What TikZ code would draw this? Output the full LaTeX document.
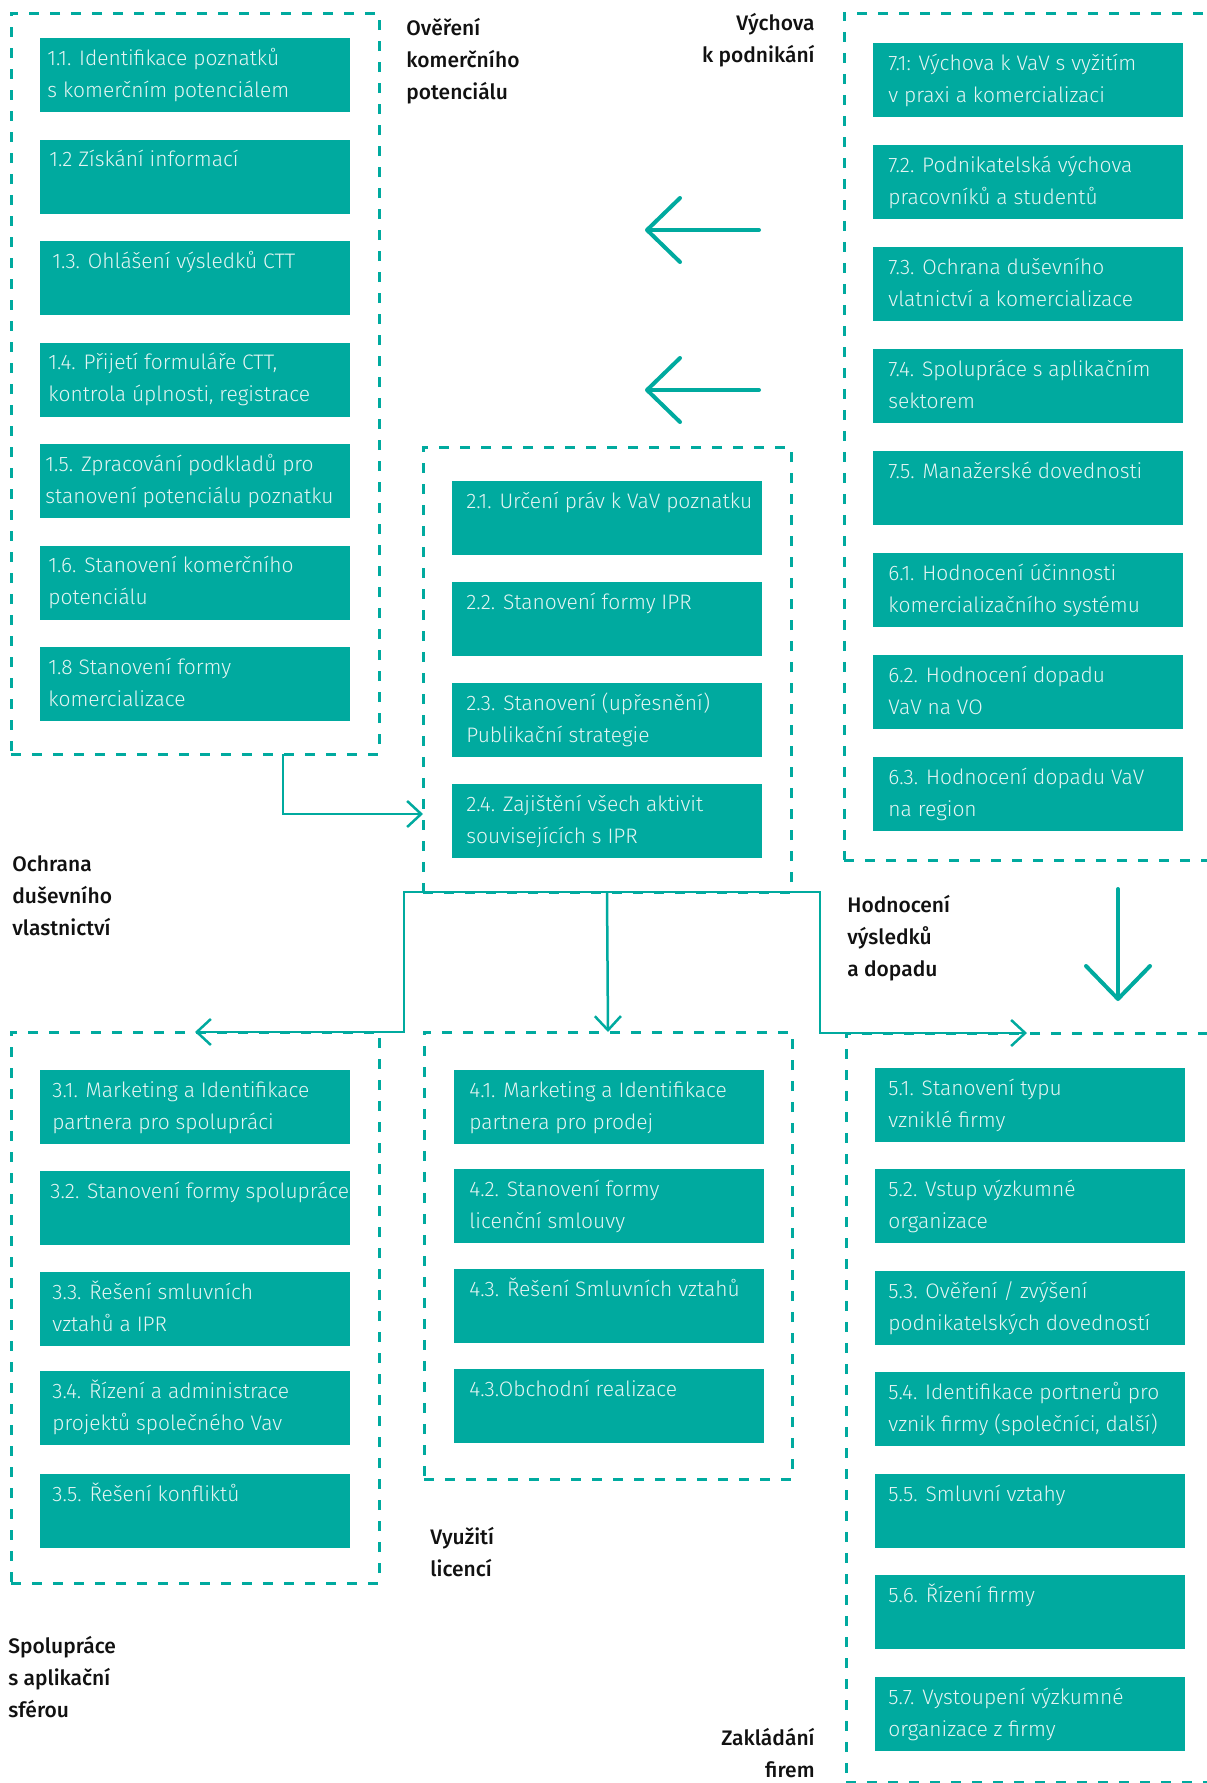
\documentclass[tikz,border=0pt]{standalone}
\usepackage{fontspec}
\setmainfont{Fira Sans}
\IfFontExistsTF{Fira Sans Light}{\newfontfamily\boxfont{Fira Sans Light}}{\newfontfamily\boxfont{Fira Sans}}
\IfFontExistsTF{Fira Sans Medium}{\newfontfamily\labfont{Fira Sans Medium}}{\newfontfamily\labfont{Fira Sans}}
\usetikzlibrary{arrows.meta}
\definecolor{teal1}{HTML}{00AA9F}
\definecolor{boxtxt}{HTML}{E4F5F3}
\definecolor{labtxt}{HTML}{111111}
\tikzset{
  frame/.style={draw=teal1, line width=1.5pt, dash pattern=on 5pt off 5.5pt,
    inner sep=0pt, outer sep=0pt, anchor=north west},
  tbox/.style={fill=teal1, inner sep=0pt, outer sep=0pt,
    minimum width=155pt, minimum height=37pt, anchor=north west},
  btext/.style={text=boxtxt, font=\boxfont\fontsize{10.5}{16}\selectfont,
    align=left, inner sep=0pt, anchor=west},
  lab/.style={text=labtxt, font=\labfont\fontsize{10.5}{16}\selectfont,
    inner sep=0pt, anchor=north west, align=left},
  labr/.style={lab, anchor=north east, align=right},
  conn/.style={draw=teal1, line width=1.25pt,
    -{Straight Barb[length=7pt,width=13pt]}},
  bigarr/.style={draw=teal1, line width=2pt, line cap=round,
    -{Straight Barb[length=16.5pt,width=32pt,round]}},
}
\newcommand\mkbox[6]{%
  \node[tbox] (b#1) at (#2,#3) {};
  \node[btext] (t#1) at ([xshift=#4*0.5pt]b#1.west) {\strut #5\\\strut #6};
}
\begin{document}
\begin{tikzpicture}[x=0.5pt,y=-0.5pt]
\useasboundingbox (0,0) rectangle (1206,1783);

% frames
\node[frame, minimum width=184pt, minimum height=370.5pt] (f1) at (11,13) {};
\node[frame, minimum width=193pt, minimum height=423.5pt] (f7) at (844,13) {};
\node[frame, minimum width=184pt, minimum height=222.5pt] (f2) at (423,447) {};
\node[frame, minimum width=184pt, minimum height=275.5pt] (f3) at (11,1032) {};
\node[frame, minimum width=184pt, minimum height=223.5pt] (f4) at (424,1032) {};
\node[frame, minimum width=192pt, minimum height=374.5pt] (f5) at (846,1033) {};

% column 1
\mkbox{11}{40}{38}{7}{1.1. Identifikace poznatků}{s komerčním potenciálem}
\mkbox{12}{40}{139.5}{9}{1.2 Získání informací}{}
\mkbox{13}{40}{241}{12}{1.3. Ohlášení výsledků CTT}{}
\mkbox{14}{40}{342.5}{8}{1.4. Přijetí formuláře CTT,}{kontrola úplnosti, registrace}
\mkbox{15}{40}{444}{5}{1.5. Zpracování podkladů pro}{stanovení potenciálu poznatku}
\mkbox{16}{40}{545.5}{8}{1.6. Stanovení komerčního}{potenciálu}
\mkbox{18}{40}{647}{8}{1.8 Stanovení formy}{komercializace}

% column 7/6
\mkbox{71}{873}{43}{15}{7.1: Výchova k VaV s vyžitím}{v praxi a komercializaci}
\mkbox{72}{873}{145}{15}{7.2. Podnikatelská výchova}{pracovníků a studentů}
\mkbox{73}{873}{247}{15}{7.3. Ochrana duševního}{vlatnictví a komercializace}
\mkbox{74}{873}{349}{15}{7.4. Spolupráce s aplikačním}{sektorem}
\mkbox{75}{873}{451}{15}{7.5. Manažerské dovednosti}{}
\mkbox{61}{873}{553}{15}{6.1. Hodnocení účinnosti}{komercializačního systému}
\mkbox{62}{873}{655}{15}{6.2. Hodnocení dopadu}{VaV na VO}
\mkbox{63}{873}{757}{15}{6.3. Hodnocení dopadu VaV}{na region}

% column 2
\mkbox{21}{452}{481}{14}{2.1. Určení práv k VaV poznatku}{}
\mkbox{22}{452}{582}{14}{2.2. Stanovení formy IPR}{}
\mkbox{23}{452}{683}{14}{2.3. Stanovení (upřesnění)}{Publikační strategie}
\mkbox{24}{452}{784}{14}{2.4. Zajištění všech aktivit}{souvisejících s IPR}

% column 3
\mkbox{31}{40}{1070}{12}{3.1. Marketing a Identifikace}{partnera pro spolupráci}
\mkbox{32}{40}{1171}{10}{3.2. Stanovení formy spolupráce}{}
\mkbox{33}{40}{1272}{12}{3.3. Řešení smluvních}{vztahů a IPR}
\mkbox{34}{40}{1371}{12}{3.4. Řízení a administrace}{projektů společného Vav}
\mkbox{35}{40}{1474}{12}{3.5. Řešení konfliktů}{}

% column 4
\mkbox{41}{454}{1070}{15}{4.1. Marketing a Identifikace}{partnera pro prodej}
\mkbox{42}{454}{1169}{15}{4.2. Stanovení formy}{licenční smlouvy}
\mkbox{43}{454}{1269}{15}{4.3. Řešení Smluvních vztahů}{}
\mkbox{44}{454}{1369}{15}{4.3.Obchodní realizace}{}

% column 5
\mkbox{51}{875}{1068}{13}{5.1. Stanovení typu}{vzniklé firmy}
\mkbox{52}{875}{1169}{13}{5.2. Vstup výzkumné}{organizace}
\mkbox{53}{875}{1271}{13}{5.3. Ověření / zvýšení}{podnikatelských dovedností}
\mkbox{54}{875}{1372}{13}{5.4. Identifikace portnerů pro}{vznik firmy (společníci, další)}
\mkbox{55}{875}{1474}{13}{5.5. Smluvní vztahy}{}
\mkbox{56}{875}{1575}{13}{5.6. Řízení firmy}{}
\mkbox{57}{875}{1677}{13}{5.7. Vystoupení výzkumné}{organizace z firmy}

% labels
\node[lab] (l1) at (406,12.6) {\strut Ověření\\komerčního\\potenciálu};
\node[labr] (l7) at (815,7.6) {\strut Výchova\\k podnikání};
\node[lab] (l2) at (12,848.6) {\strut Ochrana\\duševního\\vlastnictví};
\node[lab] (l6) at (847,889.6) {\strut Hodnocení\\výsledků\\a dopadu};
\node[lab] (l4) at (430,1521.6) {\strut Využití\\licencí};
\node[lab] (l3) at (8,1630.6) {\strut Spolupráce\\s aplikační\\sférou};
\node[labr] (l5) at (815,1723) {\strut Zakládání\\firem};

% big arrows
\coordinate (a1s) at (759,230); \coordinate (a1e) at (645,230);
\coordinate (a2s) at (759,390); \coordinate (a2e) at (645,390);
\coordinate (a3s) at (1118,889); \coordinate (a3e) at (1118,1001);
\draw[bigarr] (a1s) -- (a1e);
\draw[bigarr] (a2s) -- (a2e);
\draw[bigarr] (a3s) -- (a3e);

% connectors
\coordinate (k1) at (283,814);
\draw[conn] (k1 |- f1.south) -- (k1) -- (k1 -| f2.west);
\coordinate (jl) at (404,892);
\coordinate (jr) at (820,892);
\coordinate (tl) at (195,1032);
\coordinate (tr) at (1027,1033);
\draw[conn] (f2.south) -- (f4.north);
\draw[conn] (f2.south) -- (jl) |- (tl);
\draw[conn] (f2.south) -- (jr) |- (tr);
\end{tikzpicture}
\end{document}
